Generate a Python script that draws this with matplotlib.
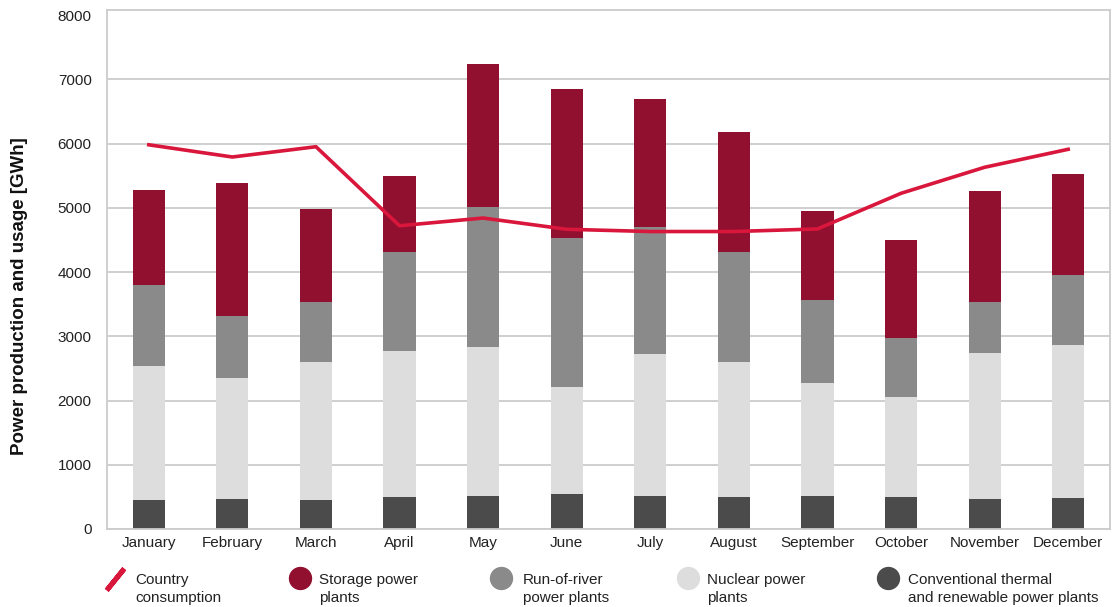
import matplotlib.pyplot as plt
from matplotlib.lines import Line2D
from matplotlib.markers import MarkerStyle
import numpy as np

months = ['January', 'February', 'March', 'April', 'May', 'June', 'July',
          'August', 'September', 'October', 'November', 'December']
# GWh per month, segment heights of the stacks
conventional = [450, 470, 450, 500, 510, 550, 510, 500, 510, 500, 470, 480]
nuclear = [2090, 1880, 2150, 2270, 2320, 1660, 2210, 2100, 1760, 1550, 2270, 2380]
run_of_river = [1250, 970, 930, 1540, 2180, 2320, 1980, 1710, 1290, 930, 790, 1090]
storage = [1490, 2070, 1450, 1180, 2220, 2320, 1990, 1870, 1390, 1520, 1730, 1570]
consumption = [5980, 5790, 5950, 4720, 4840, 4665, 4630, 4630, 4670, 5225, 5630, 5910]
yticks = [0, 1000, 2000, 3000, 4000, 5000, 6000, 7000, 8000]

legend_labels = ['Country\nconsumption', 'Storage power\nplants', 'Run-of-river\npower plants',
                 'Nuclear power\nplants', 'Conventional thermal\nand renewable power plants']

c_conv = '#4b4b4b'
c_nuc = '#dddddd'
c_ror = '#8a8a8a'
c_sto = '#910f2f'
c_line = '#d9163b'
c_grid = '#cccccc'

plt.rcParams['font.family'] = ['Liberation Sans', 'DejaVu Sans']

W, H = 1112, 607
fig = plt.figure(figsize=(W / 100, H / 100), dpi=100)
ax = fig.add_axes([107 / W, 1 - 529 / H, 1003 / W, 519 / H])

x = np.arange(len(months))
w = 0.385
b = np.zeros(len(months))
for vals, col in [(conventional, c_conv), (nuclear, c_nuc),
                  (run_of_river, c_ror), (storage, c_sto)]:
    ax.bar(x, vals, w, bottom=b, color=col, zorder=2)
    b = b + np.array(vals)

ax.plot(x, consumption, color=c_line, lw=2.6, zorder=3)

ax.set_xlim(-0.5, 11.5)
ax.set_ylim(0, 8078)
ax.set_yticks(yticks)
ax.set_yticklabels([str(t) for t in yticks])
ax.set_xticks(x)
ax.set_xticklabels(months)
ax.tick_params(axis='both', length=0, labelsize=11, colors='#222222')
ax.tick_params(axis='y', pad=11)
ax.tick_params(axis='x', pad=5)
ax.yaxis.grid(True, color=c_grid, lw=1.3, zorder=0)
ax.set_axisbelow(True)
# top frame stands in for the 8000 line
ax.yaxis.get_gridlines()[-1].set_visible(False)
for s in ax.spines.values():
    s.set_color(c_grid)
    s.set_linewidth(1.3)

fig.text(20 / W, 1 - 296 / H, 'Power production and usage [GWh]', rotation=90,
         fontsize=13.5, fontweight='bold', color='#111111', ha='center', va='center')

# legend, drawn by hand to match the spacing of the original
mk_x = [115, 300, 501, 688, 888]
txt_x = [135, 319, 523, 707, 908]
stroke = MarkerStyle((2, 2, -39), capstyle='round')
for i, lab in enumerate(legend_labels):
    if i == 0:
        m = Line2D([mk_x[i] / W], [1 - 579 / H], transform=fig.transFigure, ls='none',
                   marker=stroke, markersize=20, markeredgewidth=3.6,
                   markeredgecolor=c_line)
    else:
        col = [c_sto, c_ror, c_nuc, c_conv][i - 1]
        m = Line2D([mk_x[i] / W], [1 - 578 / H], transform=fig.transFigure, ls='none',
                   marker='o', markersize=15.8, color=col)
    fig.add_artist(m)
    fig.text(txt_x[i] / W, 1 - 589 / H, lab, fontsize=11, color='#222222',
             ha='left', va='center', linespacing=1.42)

fig.savefig('out.png', dpi=100)
